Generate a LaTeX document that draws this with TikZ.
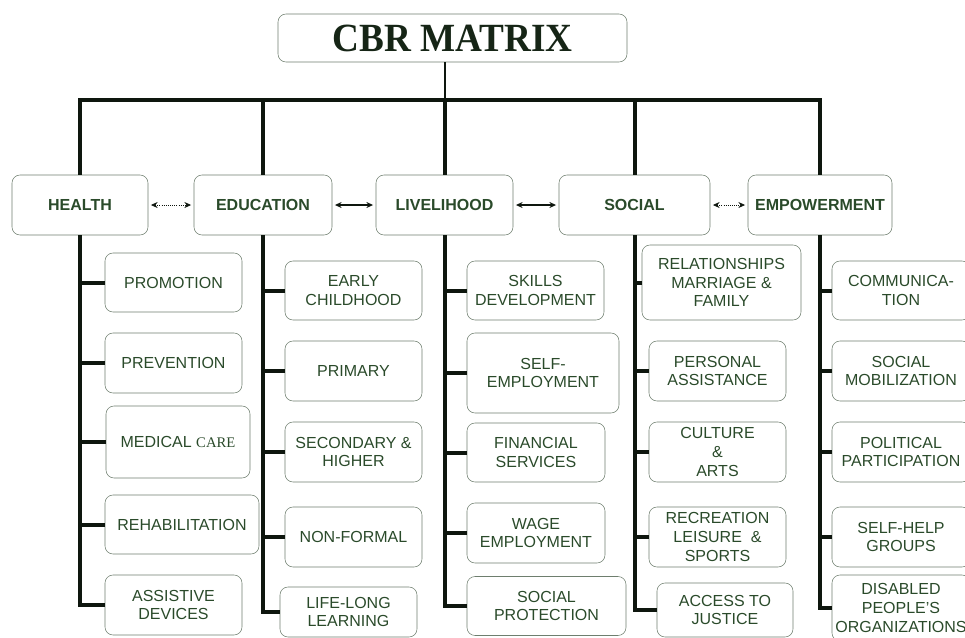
\documentclass[tikz,border=0pt]{standalone}
\usepackage{fontspec}
\setmainfont{Liberation Serif}
\setsansfont{Liberation Sans}
\newfontfamily\titlefont[FakeStretch=0.93]{Liberation Serif}
\usetikzlibrary{arrows.meta}
\definecolor{txtgreen}{HTML}{2A4A2A}
\definecolor{boxgrey}{HTML}{6E7E6E}
\definecolor{linedark}{HTML}{0E160E}
\tikzset{
  wh/.style 2 args={minimum width=#1*0.75pt, minimum height=#2*0.75pt},
  title/.style={draw=boxgrey, rounded corners=6pt, text=linedark!70!txtgreen,
    font=\titlefont\bfseries\fontsize{30}{32}\selectfont, inner sep=0pt},
  head/.style={draw=boxgrey, rounded corners=6pt, text=txtgreen,
    font=\sffamily\bfseries\fontsize{12}{14}\selectfont, inner sep=1pt, wh={#1}{60}},
  item/.style={draw=boxgrey, rounded corners=6pt, text=txtgreen,
    font=\sffamily\fontsize{12}{14}\selectfont, align=center, inner sep=1pt},
  bus/.style={linedark, line width=3.5pt},
  branch/.style={linedark, line width=3pt},
  link/.style={linedark, line width=1.1pt,
    {Stealth[length=5pt,width=4.5pt]}-{Stealth[length=5pt,width=4.5pt]},
    shorten <=2pt, shorten >=2pt},
}
\begin{document}
\begin{tikzpicture}[x=0.75pt, y=-0.75pt]
  \useasboundingbox (0,0) rectangle (965,637);
  % title
  \node[title, wh={349}{48}] (title) at (452.5,38) {CBR MATRIX};
  % main areas
  \node[head=136] (hea) at (80,205)    {HEALTH};
  \node[head=138] (edu) at (263,205)   {EDUCATION};
  \node[head=137] (liv) at (444.5,205) {LIVELIHOOD};
  \node[head=151] (soc) at (634.5,205) {SOCIAL};
  \node[head=144] (emp) at (820,205)   {EMPOWERMENT};
  % bus and drops
  \draw[linedark, line width=1.5pt] (title.south -| liv.north) -- (liv.north |- 0,100);
  \draw[bus] (hea.north) -- (hea.north |- 0,100) -- (emp.north |- 0,100) -- (emp.north);
  \foreach \c in {edu,liv,soc}
    \draw[branch] (\c.north) -- (\c.north |- 0,100);
  % arrows between areas
  \draw[link, line width=0.6pt, densely dotted] (hea.east) -- (edu.west);
  \draw[link] (edu.east) -- (liv.west);
  \draw[link] (liv.east) -- (soc.west);
  \draw[link, line width=0.6pt, densely dotted] (soc.east) -- (emp.west);
  % health
  \node[item, wh={137}{59}] (h1) at (173.5,282.5) {PROMOTION};
  \node[item, wh={137}{60}] (h2) at (173.5,363)   {PREVENTION};
  \node[item, wh={144}{72}] (h3) at (178,442)     {MEDICAL {\rmfamily\fontsize{11}{13}\selectfont CARE}};
  \node[item, wh={154}{59}] (h4) at (182,524.5)   {REHABILITATION};
  \node[item, wh={137}{60}] (h5) at (173.5,605)   {ASSISTIVE\\DEVICES};
  % education
  \node[item, wh={137}{59}] (e1) at (353.5,290.5) {EARLY\\CHILDHOOD};
  \node[item, wh={137}{60}] (e2) at (353.5,371)   {PRIMARY};
  \node[item, wh={137}{60}] (e3) at (353.5,452)   {SECONDARY \&\\HIGHER};
  \node[item, wh={137}{60}] (e4) at (353.5,537)   {NON-FORMAL};
  \node[item, wh={137}{50}] (e5) at (348.5,612)   {LIFE-LONG\\LEARNING};
  % livelihood
  \node[item, wh={137}{59}] (l1) at (535.5,290.5) {SKILLS\\DEVELOPMENT};
  \node[item, wh={152}{80}] (l2) at (543,373)     {SELF-\\EMPLOYMENT};
  \node[item, wh={138}{59}] (l3) at (536,452.5)   {FINANCIAL\\SERVICES};
  \node[item, wh={138}{60}] (l4) at (536,533)     {WAGE\\EMPLOYMENT};
  \node[item, wh={159}{59}] (l5) at (546.5,606)   {SOCIAL\\PROTECTION};
  % social
  \node[item, wh={159}{75}] (s1) at (721.5,282.5) {RELATIONSHIPS\\MARRIAGE \&\\FAMILY};
  \node[item, wh={137}{60}] (s2) at (717.5,371)   {PERSONAL\\ASSISTANCE};
  \node[item, wh={137}{60}] (s3) at (717.5,452)   {CULTURE\\\&\\ARTS};
  \node[item, wh={137}{60}] (s4) at (717.5,537)   {RECREATION\\LEISURE\ \ \&\\SPORTS};
  \node[item, wh={136}{54}] (s5) at (725,610)     {ACCESS TO\\JUSTICE};
  % empowerment
  \node[item, wh={138}{59}] (p1) at (901,290.5) {COMMUNICA-\\TION};
  \node[item, wh={138}{60}] (p2) at (901,371)   {SOCIAL\\MOBILIZATION};
  \node[item, wh={138}{60}] (p3) at (901,452)   {POLITICAL\\PARTICIPATION};
  \node[item, wh={138}{60}] (p4) at (901,537)   {SELF-HELP\\GROUPS};
  \node[item, wh={138}{66}] (p5) at (901,608)   {DISABLED\\PEOPLE'S\\ORGANIZATIONS};
  % spines and branches
  \foreach \c/\n in {hea/h, edu/e, liv/l, soc/s, emp/p}{
    \draw[branch] (\c.south) |- (\n5.west);
    \foreach \i in {1,...,5}
      \draw[branch] (\c.south |- \n\i.west) -- (\n\i.west);
  }
\end{tikzpicture}
\end{document}
